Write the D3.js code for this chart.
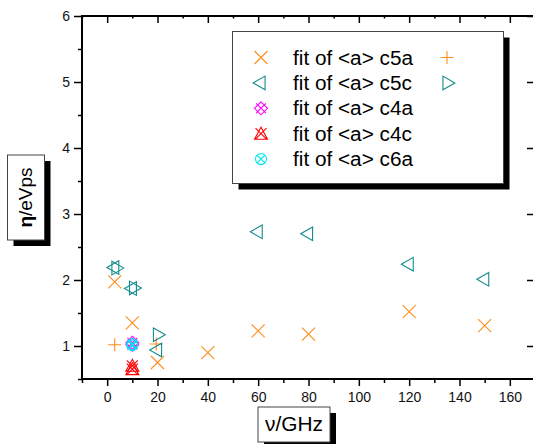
<!DOCTYPE html>
<html>
<head>
<meta charset="utf-8">
<script src="https://cdn.jsdelivr.net/npm/d3@7"></script>
<style>
  body { margin: 0; background: #fff; }
  svg { font-family: "Liberation Sans", Arial, sans-serif; }
</style>
</head>
<body>
<svg id="canvas" width="533" height="444"></svg>
<script>
// data
var c5aX = [3, 10, 20, 40, 60, 80, 120, 150];
var c5aY = [1.97, 1.35, 0.75, 0.90, 1.23, 1.18, 1.52, 1.31];
var c5aPlusX = [3, 19.5];
var c5aPlusY = [1.02, 1.03];
var c5cX = [3, 10, 20, 60, 80, 120, 150];
var c5cY = [2.19, 1.87, 0.94, 2.73, 2.70, 2.24, 2.01];
var c5cRightX = [3.5, 10.5, 20];
var c5cRightY = [2.18, 1.88, 1.17];
var c4aX = [10, 10];
var c4aY = [1.05, 1.02];
var c4cX = [10, 10];
var c4cY = [0.65, 0.70];
var c6aX = [10, 10];
var c6aY = [1.03, 1.01];

var xMajor = [0, 20, 40, 60, 80, 100, 120, 140, 160];
var xMinor = [-10, 10, 30, 50, 70, 90, 110, 130, 150, 170];
var yMajor = [1, 2, 3, 4, 5, 6];
var yMinor = [0.5, 1.5, 2.5, 3.5, 4.5, 5.5];
var legendLabels = ['fit of <a> c5a', 'fit of <a> c5c', 'fit of <a> c4a', 'fit of <a> c4c', 'fit of <a> c6a'];

var svg = d3.select('#canvas');
var plotL = 82, plotT = 16, plotR = 535, plotB = 379;

var x = d3.scaleLinear().domain([-10, 170]).range([plotL, plotR]);
var y = d3.scaleLinear().domain([0.5, 6]).range([plotB, plotT]);

// fit a text to a wanted width (fonts differ from the original)
function fitWidth(t, w){
  var n = t.node(), len = n.getComputedTextLength();
  var fs = parseFloat(t.style('font-size'));
  if (len > 0) t.style('font-size', (fs * w / len) + 'px');
  return t;
}

// ---------------------------------------------------------------- symbols
var sym = {
  x: function(r){ return 'M'+(-r)+','+(-r)+'L'+r+','+r+'M'+(-r)+','+r+'L'+r+','+(-r); },
  plus: function(r){ return 'M'+(-r)+',0H'+r+'M0,'+(-r)+'V'+r; },
  // triangles centred on their centroid, so a left + right pair makes a star
  triL: function(r){ return 'M'+(-r*1.15)+',0L'+(r*0.6)+','+(-r)+'L'+(r*0.6)+','+r+'Z'; },
  triR: function(r){ return 'M'+(r*1.15)+',0L'+(-r*0.6)+','+(-r)+'L'+(-r*0.6)+','+r+'Z'; },
  xDiamond: function(r){ return sym.x(r*0.75) + 'M0,'+(-r)+'L'+r+',0L0,'+r+'L'+(-r)+',0Z'; },
  xTri: function(r){ return sym.x(r*0.85) + 'M0,'+(-r)+'L'+r+','+(r*0.85)+'L'+(-r)+','+(r*0.85)+'Z'; },
  xCircle: function(r){ var a = r*0.7; return 'M'+(-a)+','+(-a)+'L'+a+','+a+'M'+(-a)+','+a+'L'+a+','+(-a) +
    'M'+r+',0A'+r+','+r+' 0 1,1 '+(-r)+',0A'+r+','+r+' 0 1,1 '+r+',0'; }
};

var series = [
  { xs: c5aX, ys: c5aY, shape: 'x', r: 6.5, color: '#ff8c1a' },
  { xs: c5aPlusX, ys: c5aPlusY, shape: 'plus', r: 6.5, color: '#ff8c1a' },
  { xs: c5cX, ys: c5cY, shape: 'triL', r: 6.8, color: '#148c8c' },
  { xs: c5cRightX, ys: c5cRightY, shape: 'triR', r: 6.8, color: '#148c8c' },
  { xs: c4aX, ys: c4aY, shape: 'xDiamond', r: 6.5, color: '#ff00ff' },
  { xs: c4cX, ys: c4cY, shape: 'xTri', r: 6.5, color: '#ff0000' },
  { xs: c6aX, ys: c6aY, shape: 'xCircle', r: 5.5, color: '#00e8f0' }
];

// ---------------------------------------------------------------- axes
function styleAxis(g){
  g.select('.domain').remove();
  g.attr('font-family', null).attr('font-size', null);
  g.selectAll('line').attr('stroke', '#000').attr('stroke-width', 1.5);
  g.selectAll('text').attr('fill', '#111').style('font-size', '14px');
}

svg.append('g').attr('transform', 'translate(0,' + plotB + ')')
  .call(d3.axisBottom(x).tickValues(xMajor).tickSize(7).tickPadding(6)).call(styleAxis);
svg.append('g').attr('transform', 'translate(0,' + plotB + ')')
  .call(d3.axisBottom(x).tickValues(xMinor).tickSize(4).tickFormat('')).call(styleAxis);
svg.append('g').attr('transform', 'translate(0,' + plotT + ')')
  .call(d3.axisBottom(x).tickValues(xMajor).tickSize(7).tickFormat('')).call(styleAxis);
svg.append('g').attr('transform', 'translate(0,' + plotT + ')')
  .call(d3.axisBottom(x).tickValues(xMinor).tickSize(2.5).tickFormat('')).call(styleAxis);

svg.append('g').attr('transform', 'translate(' + plotL + ',0)')
  .call(d3.axisLeft(y).tickValues(yMajor).tickSize(8).tickPadding(4).tickFormat(d3.format('d'))).call(styleAxis);
svg.append('g').attr('transform', 'translate(' + plotL + ',0)')
  .call(d3.axisLeft(y).tickValues(yMinor).tickSize(4).tickFormat('')).call(styleAxis);
svg.append('g').attr('transform', 'translate(' + plotR + ',0)')
  .call(d3.axisLeft(y).tickValues(yMajor).tickSize(8).tickFormat('')).call(styleAxis);

// frame
svg.append('rect')
  .attr('x', plotL).attr('y', plotT).attr('width', plotR - plotL).attr('height', plotB - plotT)
  .attr('fill', 'none').attr('stroke', '#000').attr('stroke-width', 2);

// ---------------------------------------------------------------- points
series.forEach(function(s){
  svg.append('g').selectAll('path').data(s.xs).enter().append('path')
    .attr('transform', function(d, i){ return 'translate(' + x(d) + ',' + y(s.ys[i]) + ')'; })
    .attr('d', sym[s.shape](s.r))
    .attr('fill', 'none').attr('stroke', s.color).attr('stroke-width', 1.1);
});

// ---------------------------------------------------------------- boxed titles
function shadowBox(bx, by, bw, bh, off){
  svg.append('rect').attr('x', bx + off).attr('y', by + off).attr('width', bw).attr('height', bh).attr('fill', '#000');
  svg.append('rect').attr('x', bx).attr('y', by).attr('width', bw).attr('height', bh)
    .attr('fill', '#fff').attr('stroke', '#444').attr('stroke-width', 1);
}

shadowBox(258, 407, 72, 35, 6);
fitWidth(svg.append('text').attr('x', 294).attr('y', 431).attr('text-anchor', 'middle')
  .style('font-size', '18px').attr('fill', '#000').text('ν/GHz'), 58);

shadowBox(7.5, 155, 37, 85, 6);
svg.append('text').attr('transform', 'translate(32,197.5) rotate(-90)').attr('text-anchor', 'middle')
  .style('font-size', '19px').attr('fill', '#000')
  .html('<tspan font-weight="bold">η</tspan>/eVps');

// ---------------------------------------------------------------- legend
shadowBox(232.5, 31.5, 271, 152, 6);
var legendSym = [
  [series[0], series[1]],
  [series[2], series[3]],
  [series[4]],
  [series[5]],
  [series[6]]
];
var legendText = [];
legendLabels.forEach(function(label, i){
  var ly = 57.5 + i * 25.4;
  legendSym[i].forEach(function(s, j){
    svg.append('path')
      .attr('transform', 'translate(' + (j ? 447 : 261) + ',' + ly + ')')
      .attr('d', sym[s.shape](s.r))
      .attr('fill', 'none').attr('stroke', s.color).attr('stroke-width', 1.1);
  });
  legendText.push(svg.append('text').attr('x', 293).attr('y', ly + 7)
    .style('font-size', '20px').attr('fill', '#000').text(label));
});
// every legend line gets the size found for the first one
fitWidth(legendText[0], 120);
legendText.forEach(function(t){ t.style('font-size', legendText[0].style('font-size')); });
</script>
</body>
</html>
